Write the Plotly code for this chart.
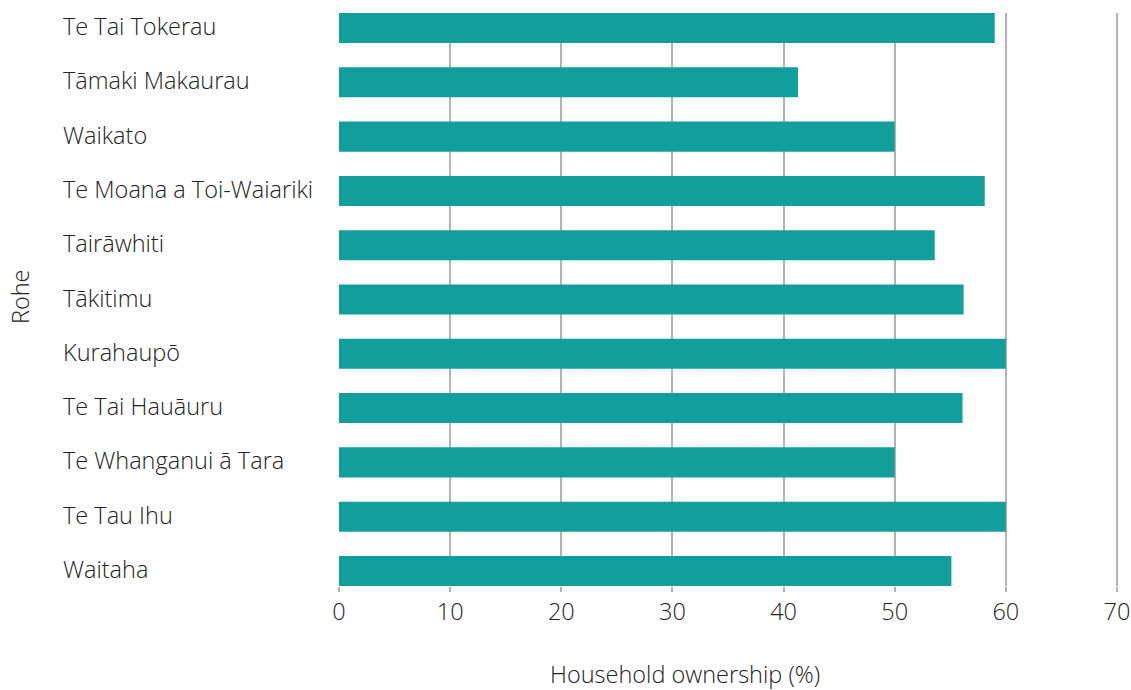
import plotly.graph_objects as go

regions = ["Te Tai Tokerau", "Tāmaki Makaurau", "Waikato", "Te Moana a Toi-Waiariki",
           "Tairāwhiti", "Tākitimu", "Kurahaupō", "Te Tai Hauāuru",
           "Te Whanganui ā Tara", "Te Tau Ihu", "Waitaha"]
ownership = [59.0, 41.3, 50.0, 58.1, 53.6, 56.2, 60.0, 56.1, 50.0, 60.0, 55.1]
x_ticks = [0, 10, 20, 30, 40, 50, 60, 70]

FONT = "Open Sans"
SIZE = 23.5
TXT = "#222222"
GRID = "#b3b3b3"

# plot area in page pixels
PL, PR, PT, PB = 339, 1119, 13, 586
PW, PH = PR - PL, PB - PT
XMAX = 70 * PW / (1117 - PL)

fig = go.Figure(go.Bar(
    x=ownership, y=list(range(len(regions))), orientation="h",
    marker=dict(color="#129F9B", line=dict(width=0)), width=0.553,
    hoverinfo="x",
))

def tf(size=SIZE):
    return dict(family=FONT, size=size, color=TXT, weight=300)

annotations = []
for i, r in enumerate(regions):
    annotations.append(dict(text=r, x=(61 - PL) / PW, xref="paper", y=i, yref="y",
                            xanchor="left", yanchor="middle", showarrow=False, font=tf(),
                            yshift=2))
annotations.append(dict(text="Rohe", x=(20 - PL) / PW, xref="paper", y=(PB - 297) / PH, yref="paper",
                        xanchor="center", yanchor="middle", textangle=-90, showarrow=False,
                        font=tf()))
annotations.append(dict(text="Household ownership (%)", x=(685 - PL) / PW, xref="paper",
                        y=(PB - 674) / PH, yref="paper", xanchor="center", yanchor="middle",
                        showarrow=False, font=tf(), borderpad=0))

W, H = 1131, 690
fig.update_layout(
    width=W, height=H,
    margin=dict(l=PL, r=W - PR, t=PT, b=H - PB, autoexpand=False),
    paper_bgcolor="white", plot_bgcolor="white",
    showlegend=False,
    font=tf(),
    annotations=annotations,
)
fig.update_xaxes(range=[0, XMAX], tickvals=x_ticks, showgrid=True, gridcolor=GRID, gridwidth=1.5,
                 zeroline=False, showline=False, ticks="outside", ticklen=5, tickcolor=GRID,
                 tickwidth=1.5, tickfont=tf(), automargin=False)
fig.update_yaxes(range=[10.277, -0.277], showticklabels=False, showgrid=False, zeroline=False,
                 showline=False, automargin=False)

fig.write_html("out.html", config={"displayModeBar": False},
               post_script="document.body.style.margin='0';document.body.style.overflow='hidden';")
